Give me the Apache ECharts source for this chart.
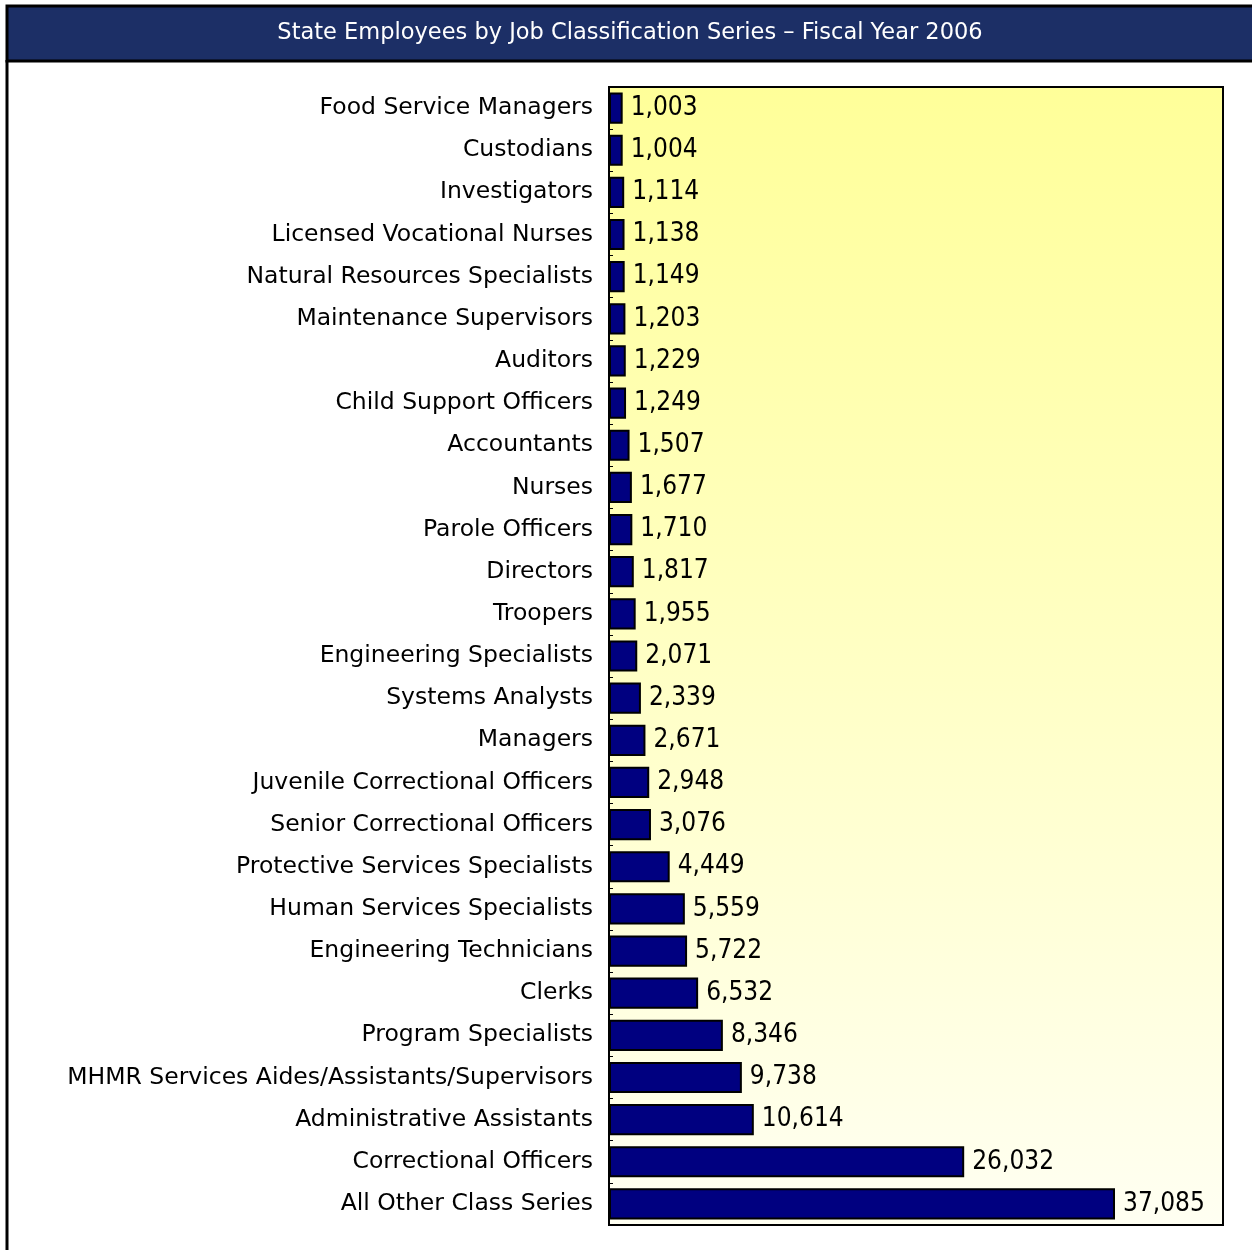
<!DOCTYPE html>
<html>
<head>
<meta charset="utf-8">
<script src="https://cdn.jsdelivr.net/npm/echarts@6/dist/echarts.min.js"></script>
<style>
  html, body { margin: 0; padding: 0; background: #fff; }
  #chart { width: 1252px; height: 1250px; }
</style>
</head>
<body>
<div id="chart"></div>
<script>
// job classification series, top to bottom as drawn
var categories = [
  'Food Service Managers', 'Custodians', 'Investigators', 'Licensed Vocational Nurses',
  'Natural Resources Specialists', 'Maintenance Supervisors', 'Auditors', 'Child Support Officers',
  'Accountants', 'Nurses', 'Parole Officers', 'Directors', 'Troopers', 'Engineering Specialists',
  'Systems Analysts', 'Managers', 'Juvenile Correctional Officers', 'Senior Correctional Officers',
  'Protective Services Specialists', 'Human Services Specialists', 'Engineering Technicians',
  'Clerks', 'Program Specialists', 'MHMR Services Aides/Assistants/Supervisors',
  'Administrative Assistants', 'Correctional Officers', 'All Other Class Series'
];
var employees = [
  1003, 1004, 1114, 1138, 1149, 1203, 1229, 1249, 1507, 1677, 1710, 1817, 1955, 2071,
  2339, 2671, 2948, 3076, 4449, 5559, 5722, 6532, 8346, 9738, 10614, 26032, 37085
];
var titleText = 'State Employees by Job Classification Series \u2013 Fiscal Year 2006';

var font = '"DejaVu Sans", sans-serif';
var numFont = '"DejaVu Sans Condensed", "DejaVu Sans", sans-serif';
var chart = echarts.init(document.getElementById('chart'));
chart.setOption({
  animation: false,
  backgroundColor: '#fff',
  graphic: [
    { // title bar
      type: 'rect', z: 10,
      shape: { x: 7, y: 6, width: 1250, height: 55 },
      style: { fill: '#1c2f66', stroke: '#000', lineWidth: 3 }
    },
    {
      type: 'text', z: 11, x: 630, y: 33,
      style: {
        text: titleText, fill: '#fff', font: '22.5px ' + font,
        align: 'center', verticalAlign: 'middle'
      }
    },
    { // left frame edge
      type: 'line', z: 10,
      shape: { x1: 7, y1: 60, x2: 7, y2: 1250 },
      style: { stroke: '#000', lineWidth: 3 }
    }
  ],
  grid: {
    left: 609, top: 87, right: 29, bottom: 25,
    show: true,
    borderColor: '#000', borderWidth: 2,
    backgroundColor: {
      type: 'linear', x: 0, y: 0, x2: 0, y2: 1,
      colorStops: [
        { offset: 0, color: '#ffff99' },
        { offset: 0.5, color: '#ffffc4' },
        { offset: 1, color: '#fffff2' }
      ]
    }
  },
  xAxis: {
    type: 'value', min: 0, max: 45000,
    show: false
  },
  yAxis: {
    type: 'category', data: categories, inverse: true,
    axisLine: { show: true, lineStyle: { color: '#000', width: 2 } },
    axisTick: { show: true, inside: true, length: 4, lineStyle: { color: '#000' } },
    axisLabel: { color: '#000', fontFamily: font, fontSize: 23.5, margin: 16 }
  },
  series: [{
    type: 'bar',
    data: employees,
    barCategoryGap: '26%',
    itemStyle: { color: '#000080', borderColor: '#000', borderWidth: 2 },
    label: {
      show: true, position: 'right', distance: 8,
      color: '#000', fontFamily: numFont, fontSize: 26,
      formatter: function (p) { return p.value.toLocaleString('en-US'); }
    }
  }]
});
</script>
</body>
</html>
